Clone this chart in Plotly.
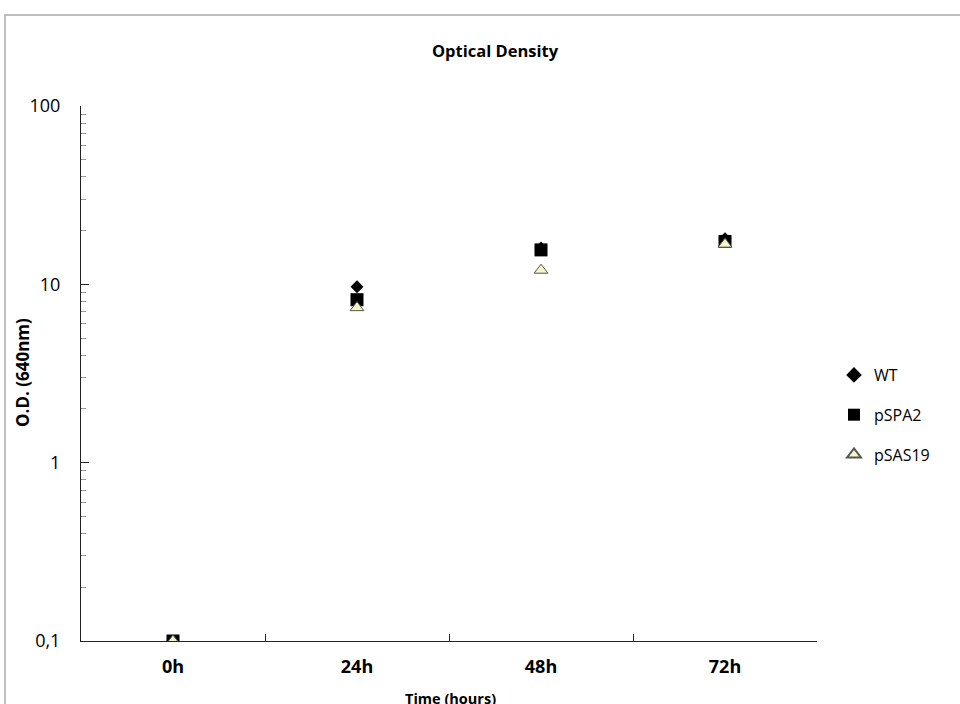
import plotly.graph_objects as go

categories = ["0h", "24h", "48h", "72h"]
wt = [0.1, 9.7, 16.0, 18.0]
pspa2 = [0.1, 8.2, 15.6, 17.4]
psas19 = [0.1, 7.4, 12.0, 16.8]

font_family = "Open Sans, Liberation Sans, sans-serif"

fig = go.Figure()
fig.add_trace(go.Scatter(x=categories, y=wt, mode="markers", name="WT", legendgroup="a",
                         marker=dict(symbol="diamond", size=10, color="black", line=dict(width=0))))
fig.add_trace(go.Scatter(x=categories, y=pspa2, mode="markers", name="pSPA2", legendgroup="b",
                         marker=dict(symbol="square", size=13, color="black", line=dict(width=0))))
fig.add_trace(go.Scatter(x=categories, y=psas19, mode="markers", name="pSAS19", legendgroup="c",
                         marker=dict(symbol="triangle-up", size=12, color="#f6f6c6",
                                     line=dict(width=1, color="#555555"))))

L, R, T, B = 81, 817, 106, 641
W, H = 960, 704
pw, ph = R - L, B - T

def px(x):
    return (x - L) / pw

def py(y):
    return (B - y) / ph

fig.update_layout(
    width=W, height=H,
    margin=dict(l=L, r=W - R, t=T, b=H - B, pad=0, autoexpand=False),
    paper_bgcolor="white", plot_bgcolor="white",
    font=dict(family=font_family, color="black"),
    title=dict(text="<b>Optical Density</b>", x=495 / W, xanchor="center", xref="container",
               y=1 - 51 / H, yanchor="middle", yref="container",
               font=dict(size=16.5, family=font_family)),
    showlegend=True,
    legend=dict(x=px(834), y=py(415), xanchor="left", yanchor="middle",
                font=dict(size=16, family=font_family), tracegroupgap=16,
                itemsizing="constant", bgcolor="rgba(0,0,0,0)"),
    xaxis=dict(type="category", categoryorder="array", categoryarray=categories,
               range=[-0.5, 3.5], showgrid=False, zeroline=False, automargin=False,
               showline=True, linecolor="#222", linewidth=1,
               ticks="inside", ticklen=7, tickcolor="#222", tickson="boundaries",
               tickfont=dict(size=18, family=font_family), ticklabelstandoff=9,
               tickvals=categories, ticktext=["<b>%s</b>" % c for c in categories]),
    yaxis=dict(type="log", range=[-1, 2], showgrid=False, zeroline=False, automargin=False,
               showline=True, linecolor="#222", linewidth=1,
               ticks="inside", ticklen=8, tickcolor="#222",
               tickvals=[0.1, 1, 10, 100], ticktext=["0,1", "1", "10", "100"],
               tickfont=dict(size=18, family=font_family), ticklabelstandoff=16,
               minor=dict(ticks="inside", ticklen=5, tickcolor="#999", dtick="D1", showgrid=False)),
    shapes=[dict(type="rect", xref="paper", yref="paper",
                 x0=px(5), x1=px(962), y0=py(706), y1=py(15),
                 line=dict(color="#aaaaaa", width=1.5), fillcolor="rgba(0,0,0,0)", layer="below")],
    annotations=[
        dict(text="<b>Time (hours)</b>", xref="paper", yref="paper",
             x=px(450), y=py(687), xanchor="center", yanchor="top", showarrow=False,
             font=dict(size=14.5, family=font_family)),
        dict(text="<b>O.D. (640nm)</b>", xref="paper", yref="paper", textangle=-90,
             x=px(22), y=py(373), xanchor="center", yanchor="middle", showarrow=False,
             font=dict(size=17, family=font_family)),
    ],
)

fig.write_html("out.html", config={"displayModeBar": False},
               post_script="document.body.style.margin='0';document.body.style.overflow='hidden';")
